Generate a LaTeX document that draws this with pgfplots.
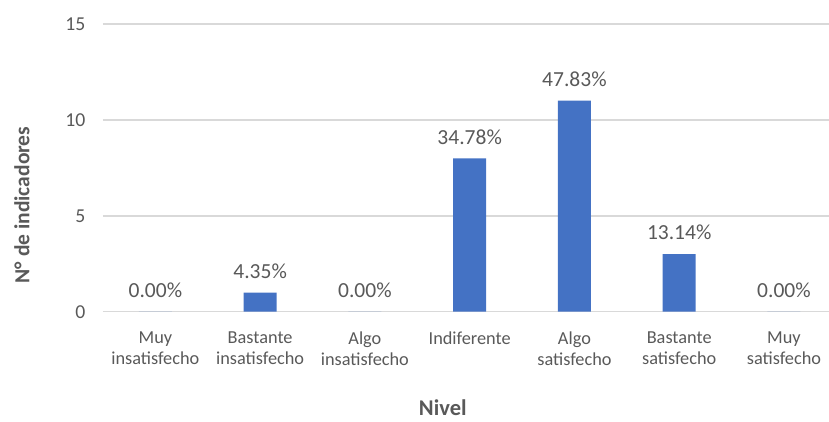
\documentclass[border=0pt]{standalone}
\usepackage{pgfplots}
\pgfplotsset{compat=1.18}
\usepackage{fontspec}
\setmainfont{Carlito}
\definecolor{barblue}{HTML}{4472C4}
\definecolor{gridgray}{HTML}{D9D9D9}
\definecolor{txtgray}{HTML}{595959}
\begin{document}
\begin{tikzpicture}
\path[use as bounding box] (-103pt,-109.3pt) rectangle (726pt,311.7pt);
\begin{axis}[
  at={(0pt,0pt)}, anchor=south west,
  scale only axis,
  width=726pt, height=287.7pt,
  xmin=-0.5, xmax=6.43,
  ymin=0, ymax=15,
  ytick={0,5,10,15},
  xtick={0,...,6},
  xticklabels={Muy\\insatisfecho, Bastante\\insatisfecho, Algo\\insatisfecho, Indiferente, Algo\\satisfecho, Bastante\\satisfecho, Muy\\satisfecho},
  xticklabel style={align=center, anchor=north, font=\fontsize{18.3}{21}\selectfont, text=txtgray, yshift=-17pt},
  yticklabel style={font=\fontsize{19.7}{22}\selectfont, text=txtgray, xshift=-14pt},
  /pgf/number format/assume math mode=true,
  ytick style={draw=none}, xtick style={draw=none},
  axis line style={draw=none},
  ymajorgrids, grid style={gridgray, line width=1.5pt},
  extra y ticks={0}, extra y tick labels={},
  extra y tick style={grid style={gridgray, line width=1.5pt}},
  xlabel={Nivel},
  ylabel={N° de indicadores},
  xlabel style={at={(axis description cs:0.468,-0.335)}, anchor=center, inner sep=0pt, font=\bfseries\fontsize{22.5}{25}\selectfont, text=txtgray},
  ylabel style={at={(axis description cs:-0.1116,0.371)}, anchor=center, font=\bfseries\fontsize{21.5}{24}\selectfont, text=txtgray},
  clip=false,
]
\addplot[ybar, bar width=33pt, fill=barblue, draw=none,
  point meta=explicit symbolic,
  nodes near coords,
  every node near coord/.append style={font=\fontsize{21.5}{24}\selectfont, text=txtgray, anchor=center, yshift=21.5pt}]
  table[meta=lab] {
x y lab
0 0 0.00\%
1 1 4.35\%
2 0 0.00\%
3 8 34.78\%
4 11 47.83\%
5 3 13.14\%
6 0 0.00\%
};
\end{axis}
\end{tikzpicture}
\end{document}
